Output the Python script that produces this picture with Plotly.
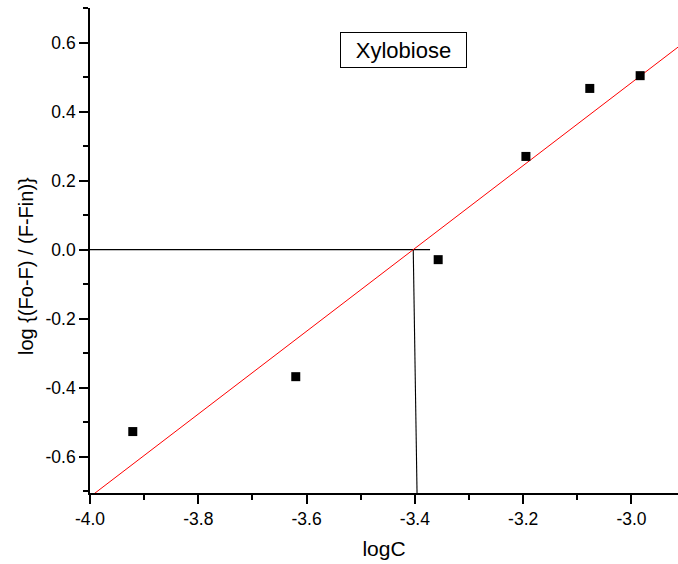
import numpy as np
import plotly.graph_objects as go

# Measured points: logC vs log{(Fo-F)/(F-Fin)}
log_c = [-3.921, -3.620, -3.357, -3.195, -3.077, -2.984]
log_ratio = [-0.527, -0.368, -0.029, 0.270, 0.467, 0.504]

# Axis ticks
x_ticks = [-4.0, -3.8, -3.6, -3.4, -3.2, -3.0]
x_tick_labels = ["-4.0", "-3.8", "-3.6", "-3.4", "-3.2", "-3.0"]
y_ticks = [-0.6, -0.4, -0.2, 0.0, 0.2, 0.4, 0.6]
y_tick_labels = ["-0.6", "-0.4", "-0.2", "0.0", "0.2", "0.4", "0.6"]

x_range = [-4.0, -2.9141]
y_range = [-0.705, 0.70]

# Linear fit through the measured points
slope, intercept = np.polyfit(log_c, log_ratio, 1)
x0 = -intercept / slope  # logC where the fit crosses zero

fit_x = np.array(x_range)
fit_y = slope * fit_x + intercept

# Guide lines marking the zero crossing
guide_h_x = [-4.0, -3.372]
guide_h_y = [0.0, 0.0]
guide_v_x = [x0, x0 + 0.007]
guide_v_y = [0.0, y_range[0]]

FONT = "Liberation Sans, Arial, Helvetica, sans-serif"

fig = go.Figure()

fig.add_trace(go.Scatter(
    x=guide_h_x, y=guide_h_y, mode="lines",
    line=dict(color="black", width=1.1), hoverinfo="skip", showlegend=False,
))
fig.add_trace(go.Scatter(
    x=guide_v_x, y=guide_v_y, mode="lines",
    line=dict(color="black", width=1.1), hoverinfo="skip", showlegend=False,
))
fig.add_trace(go.Scatter(
    x=fit_x, y=fit_y, mode="lines",
    line=dict(color="#ff0000", width=1), showlegend=False,
))
fig.add_trace(go.Scatter(
    x=log_c, y=log_ratio, mode="markers",
    marker=dict(symbol="square", size=9, color="black", line=dict(width=0)),
    showlegend=False, cliponaxis=False,
))

fig.add_annotation(
    x=-3.421, y=0.578, xref="x", yref="y",
    text="Xylobiose", showarrow=False,
    font=dict(family=FONT, size=22, color="black"),
    bordercolor="black", borderwidth=1, borderpad=1,
    width=123, height=32, bgcolor="white",
)

# Y-axis title placed as rotated text left of the tick labels
fig.add_annotation(
    x=-0.1088, y=0.468, xref="paper", yref="paper",
    xanchor="center", yanchor="middle", textangle=-90,
    text="log {(Fo-F) / (F-Fin)}", showarrow=False,
    font=dict(family=FONT, size=20, color="black"),
)

axis_common = dict(
    showgrid=False, zeroline=False, showline=True,
    linecolor="black", linewidth=1.6,
    ticks="outside", ticklen=9, tickwidth=1.6, tickcolor="black",
    tickfont=dict(family=FONT, size=17.5, color="black"),
    tickmode="array",
)

fig.update_layout(
    width=678, height=564,
    margin=dict(l=90, r=0, t=8, b=71),
    paper_bgcolor="white", plot_bgcolor="white",
    font=dict(family=FONT, color="black"),
    xaxis=dict(
        **axis_common,
        range=x_range, tickvals=x_ticks, ticktext=x_tick_labels,
        minor=dict(tickmode="linear", tick0=-4.0, dtick=0.1, ticklen=5,
                   tickwidth=1.6, tickcolor="black", ticks="outside", showgrid=False),
        title=dict(text="logC", font=dict(family=FONT, size=21, color="black"), standoff=14),
    ),
    yaxis=dict(
        **axis_common,
        range=y_range, tickvals=y_ticks, ticktext=y_tick_labels,
        minor=dict(tickmode="linear", tick0=0.0, dtick=0.1, ticklen=5,
                   tickwidth=1.6, tickcolor="black", ticks="outside", showgrid=False),
    ),
)

fig.write_html("out.html")
